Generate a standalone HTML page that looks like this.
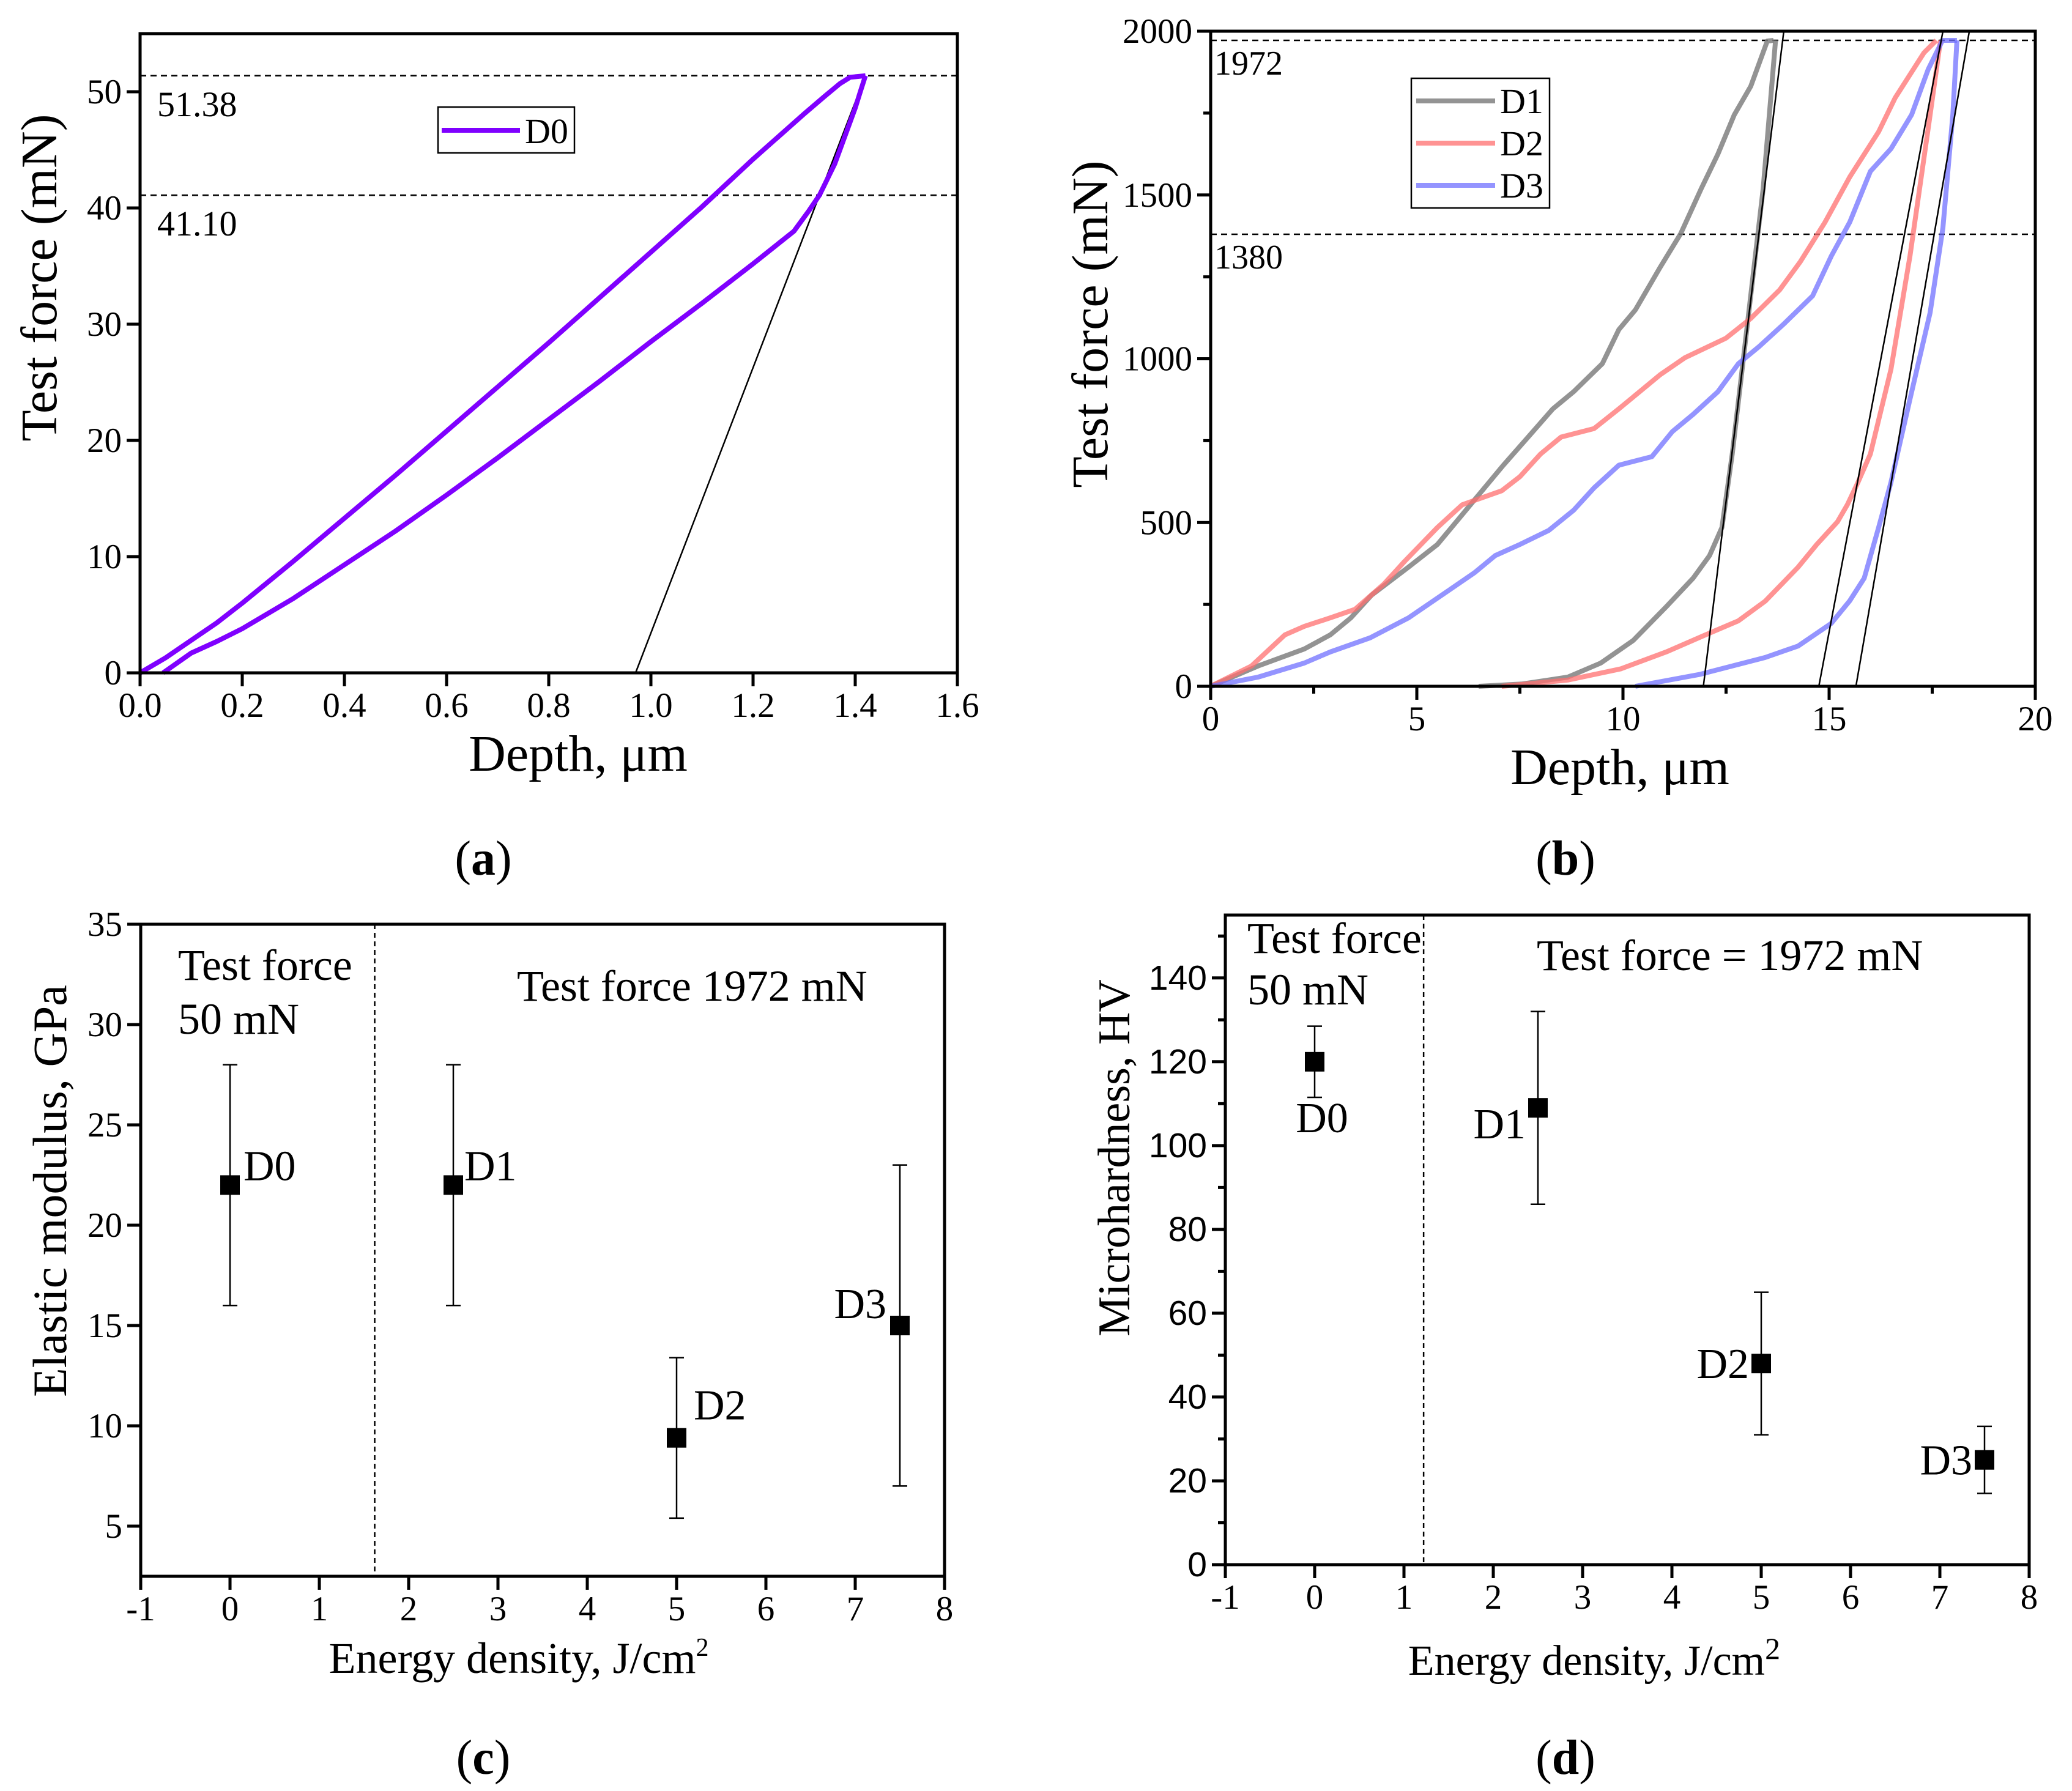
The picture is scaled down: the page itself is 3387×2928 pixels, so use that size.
<!DOCTYPE html>
<html><head><meta charset="utf-8">
<style>
html,body{margin:0;padding:0;background:#fff;}
svg{display:block;}
text{font-family:"Liberation Serif",serif;fill:#000;}
.sans{font-family:"Liberation Sans",sans-serif;}
</style></head>
<body>
<svg id="fig" width="3387" height="2928" viewBox="0 0 3387 2928" xmlns="http://www.w3.org/2000/svg"></svg>
<script>
// ---------- Panel (a) data ----------
const aLoadDepth = [0,0.05,0.1,0.15,0.2,0.3,0.4,0.5,0.6,0.7,0.8,0.9,1.0,1.1,1.2,1.3,1.34,1.37,1.39,1.42];
const aLoadForce = [0,1.3,2.8,4.3,6.0,9.6,13.3,17.0,20.8,24.6,28.4,32.3,36.2,40.1,44.2,48.1,49.6,50.7,51.25,51.38];
const aUnloadDepth = [1.42,1.41,1.40,1.38,1.36,1.34,1.33,1.31,1.28,1.2,1.1,1.0,0.9,0.8,0.7,0.6,0.5,0.4,0.3,0.2,0.15,0.1,0.045];
const aUnloadForce = [51.38,50.0,48.6,46.2,43.8,42.0,41.1,39.8,38.0,35.2,31.8,28.5,25.1,21.8,18.5,15.3,12.2,9.3,6.4,3.8,2.7,1.7,0];
const aTangentDepth = [0.97,1.42];
const aTangentForce = [0,51.38];
const aRefForces = [51.38,41.10];
const aRefLabels = ["51.38","41.10"];
const aXTicks = [0,0.2,0.4,0.6,0.8,1.0,1.2,1.4,1.6];
const aXTickLabels = ["0.0","0.2","0.4","0.6","0.8","1.0","1.2","1.4","1.6"];
const aYTicks = [0,10,20,30,40,50];

// ---------- Panel (b) data ----------
const bD1LoadDepth = [0,1.15,2.27,2.9,3.4,3.9,4.8,5.5,6.3,7.1,7.7,8.3,8.8,9.5,9.9,10.3,10.9,11.4,11.9,12.3,12.7,13.1,13.5,13.65];
const bD1LoadForce = [0,62,114,157,209,278,364,433,554,675,761,847,899,985,1089,1149,1279,1382,1520,1624,1745,1832,1970,1972];
const bD1UnloadDepth = [13.7,13.4,12.97,12.65,12.4,12.1,11.7,11.05,10.25,9.46,8.66,7.54,6.5];
const bD1UnloadForce = [1972,1520,1054,709,485,399,330,243,140,71,28,7,0];
const bD2LoadDepth = [0,0.99,1.8,2.27,2.9,3.5,4.2,4.7,5.5,6.1,7.06,7.5,8.0,8.5,9.3,9.9,10.4,10.9,11.5,12.5,13.1,13.8,14.3,14.9,15.5,16.2,16.6,17.3,17.6];
const bD2LoadForce = [0,62,157,183,209,235,312,381,485,554,597,640,709,761,787,847,899,951,1003,1063,1123,1210,1296,1417,1555,1693,1796,1934,1972];
const bD2UnloadDepth = [17.7,17.45,16.96,16.5,16.0,15.7,15.44,15.2,14.7,14.25,13.45,12.8,12.0,11.05,9.94,8.66,7.06];
const bD2UnloadForce = [1972,1745,1313,968,709,623,554,502,433,364,260,200,157,105,53,19,0];
const bD3LoadDepth = [0,1.15,2.27,2.9,3.87,4.8,5.8,6.4,6.9,7.5,8.2,8.8,9.3,9.9,10.7,11.2,11.7,12.3,12.8,13.3,13.9,14.6,15.05,15.5,16.0,16.5,17.0,17.4,17.75,18.1];
const bD3LoadForce = [0,28,71,105,148,209,295,347,399,433,476,537,606,675,701,778,830,899,985,1037,1106,1192,1313,1417,1572,1641,1745,1883,1972,1972];
const bD3UnloadDepth = [18.1,18.0,17.76,17.45,16.97,16.5,16.2,15.85,15.5,15.05,14.25,13.45,11.85,10.3];
const bD3UnloadForce = [1972,1745,1400,1141,882,623,485,330,261,192,123,88,36,0];
const bTangentStart = [11.95,14.75,15.65];
const bTangentEnd = [13.9,17.76,18.4];
const bRefForces = [1972,1380];
const bRefLabels = ["1972","1380"];
const bXTicks = [0,5,10,15,20];
const bXMinor = [2.5,7.5,12.5,17.5];
const bYTicks = [0,500,1000,1500,2000];
const bYMinor = [250,750,1250,1750];
const bSeriesNames = ["D1","D2","D3"];

// ---------- Panel (c) data ----------
const cX = [0,2.5,5,7.5];
const cY = [22,22,9.4,15];
const cLow = [16,16,5.4,7];
const cHigh = [28,28,13.4,23];
const cNames = ["D0","D1","D2","D3"];
const cXTicks = [-1,0,1,2,3,4,5,6,7,8];
const cYTicks = [5,10,15,20,25,30,35];
const cDivider = 1.62;

// ---------- Panel (d) data ----------
const dX = [0,2.5,5,7.5];
const dY = [120,109,48,25];
const dLow = [111.5,86,31,17];
const dHigh = [128.5,132,65,33];
const dNames = ["D0","D1","D2","D3"];
const dXTicks = [-1,0,1,2,3,4,5,6,7,8];
const dYTicks = [0,20,40,60,80,100,120,140];
const dYMinor = [10,30,50,70,90,110,130,150];
const dDivider = 1.22;

const NS = "http://www.w3.org/2000/svg";
const svg = document.getElementById('fig');
const TICK_FS = 57, TITLE_FS = 84, LABEL_FS = 70, PANEL_FS = 80;
function el(tag, attrs, parent, txt){
  const e = document.createElementNS(NS, tag);
  for (const k in attrs) e.setAttribute(k, attrs[k]);
  if (txt !== undefined) e.textContent = txt;
  (parent||svg).appendChild(e);
  return e;
}
function scale(d0,d1,r0,r1){ return v => r0 + (v-d0)*(r1-r0)/(d1-d0); }

function axesFrame(g, L,R,T,B, xs, ys, xt, xtl, yt, ytl, xMinor, yMinor, sans){
  const f = el('rect',{x:L,y:T,width:R-L,height:B-T,fill:'none',stroke:'#000','stroke-width':5},g);
  
  
  xt.forEach((v,i)=>{
    const x = xs(v);
    const t = el('line',{x1:x,x2:x,y1:B,y2:B+22,stroke:'#000','stroke-width':5},g);
    
    
    const lb = el('text',{x:x,y:B+72,'text-anchor':'middle','font-size':TICK_FS},g,xtl[i]);
    
    
  });
  (xMinor||[]).forEach(v=>{
    const x = xs(v);
    const t = el('line',{x1:x,x2:x,y1:B,y2:B+12,stroke:'#000','stroke-width':5},g);
    
    
  });
  yt.forEach((v,i)=>{
    const y = ys(v);
    const t = el('line',{x1:L-22,x2:L,y1:y,y2:y,stroke:'#000','stroke-width':5},g);
    
    
    const lb = el('text',{x:L-30,y:y+19,'text-anchor':'end','font-size':TICK_FS},g,ytl[i]);
    if (sans) lb.setAttribute('class','sans');
    
    
  });
  (yMinor||[]).forEach(v=>{
    const y = ys(v);
    const t = el('line',{x1:L-12,x2:L,y1:y,y2:y,stroke:'#000','stroke-width':5},g);
    
    
  });
}
function pathD(xs,ys,X,Y){ return X.map((v,i)=>(i?'L':'M')+xs(v).toFixed(1)+','+ys(Y[i]).toFixed(1)).join(' '); }
function txt(g,x,y,s,size,anchor,name,extra){
  const t = el('text',Object.assign({x:x,y:y,'font-size':size,'text-anchor':anchor||'start'},extra||{}),g,s);
  
  
  return t;
}

// ================= Panel A =================
(function(){
  const L=229,R=1565,T=55,B=1100;
  const g = el('g',{});
  
  
  const xs = scale(0,1.6,L,R), ys = scale(0,55,B,T);
  aRefForces.forEach((v,i)=>{
    const l = el('line',{x1:L,x2:R,y1:ys(v),y2:ys(v),stroke:'#000','stroke-width':2.5,'stroke-dasharray':'10,7'},g);
    
    
    txt(g,L+28,ys(v)+66,aRefLabels[i],58,'start','reference-label');
  });
  const tl = el('line',{x1:xs(aTangentDepth[0]),y1:ys(aTangentForce[0]),x2:xs(aTangentDepth[1]),y2:ys(aTangentForce[1]),stroke:'#000','stroke-width':2.5},g);
  
  
  const p1 = el('path',{d:pathD(xs,ys,aLoadDepth,aLoadForce),fill:'none',stroke:'#7f00ff','stroke-width':8,'stroke-linejoin':'round'},g);
  
  
  const p2 = el('path',{d:pathD(xs,ys,aUnloadDepth,aUnloadForce),fill:'none',stroke:'#7f00ff','stroke-width':8,'stroke-linejoin':'round'},g);
  
  
  axesFrame(g,L,R,T,B,xs,ys,aXTicks,aXTickLabels,aYTicks,aYTicks.map(String));
  const lg = el('g',{},g);
  
  
  el('rect',{x:716,y:175,width:223,height:75,fill:'#fff',stroke:'#000','stroke-width':2.5},lg);
  const ll = el('line',{x1:722,x2:850,y1:213,y2:213,stroke:'#7f00ff','stroke-width':8},lg);
  
  
  txt(lg,858,234,'D0',58,'start','legend-label');
  txt(g,945,1260,'Depth, μm',TITLE_FS,'middle','x-axis-title');
  txt(g,0,0,'Test force (mN)',TITLE_FS,'middle','y-axis-title',{transform:'translate(92,454) rotate(-90)'});
  const pl = txt(g,790,1430,'',PANEL_FS,'middle','panel-label-a');
  pl.innerHTML = '(<tspan font-weight="bold">a</tspan>)';
})();

// ================= Panel B =================
(function(){
  const L=1979,R=3327,T=51,B=1122;
  const g = el('g',{});
  
  
  const xs = scale(0,20,L,R), ys = scale(0,2000,B,T);
  bRefForces.forEach((v,i)=>{
    const l = el('line',{x1:L,x2:R,y1:ys(v),y2:ys(v),stroke:'#000','stroke-width':2.5,'stroke-dasharray':'10,7'},g);
    
    
    txt(g,L+6,ys(v)+56,bRefLabels[i],56,'start','reference-label');
  });
  const series = [
    {name:'d1',c:'#808080',op:0.85,ld:bD1LoadDepth,lf:bD1LoadForce,ud:bD1UnloadDepth,uf:bD1UnloadForce},
    {name:'d2',c:'#ff6f6f',op:0.75,ld:bD2LoadDepth,lf:bD2LoadForce,ud:bD2UnloadDepth,uf:bD2UnloadForce},
    {name:'d3',c:'#7070ff',op:0.75,ld:bD3LoadDepth,lf:bD3LoadForce,ud:bD3UnloadDepth,uf:bD3UnloadForce}
  ];
  series.forEach(s=>{
    const a = el('path',{d:pathD(xs,ys,s.ld,s.lf),fill:'none',stroke:s.c,'stroke-opacity':s.op,'stroke-width':8,'stroke-linejoin':'round'},g);
    
    
    const b = el('path',{d:pathD(xs,ys,s.ud,s.uf),fill:'none',stroke:s.c,'stroke-opacity':s.op,'stroke-width':8,'stroke-linejoin':'round'},g);
    
    
  });
  bTangentStart.forEach((v,i)=>{
    const l = el('line',{x1:xs(v),y1:ys(0),x2:xs(bTangentEnd[i]),y2:ys(2000),stroke:'#000','stroke-width':2.5},g);
    
    
  });
  axesFrame(g,L,R,T,B,xs,ys,bXTicks,bXTicks.map(String),bYTicks,bYTicks.map(String),bXMinor,bYMinor);
  const lg = el('g',{},g);
  
  
  el('rect',{x:2307,y:128,width:226,height:212,fill:'#fff',stroke:'#000','stroke-width':2.5},lg);
  series.forEach((s,i)=>{
    const y = 165+i*69;
    const l = el('line',{x1:2315,x2:2444,y1:y,y2:y,stroke:s.c,'stroke-opacity':s.op,'stroke-width':8},lg);
    
    
    txt(lg,2452,y+20,bSeriesNames[i],58,'start','legend-label');
  });
  txt(g,2648,1282,'Depth, μm',TITLE_FS,'middle','x-axis-title');
  txt(g,0,0,'Test force (mN)',TITLE_FS,'middle','y-axis-title',{transform:'translate(1810,530) rotate(-90)'});
  const pl = txt(g,2559,1430,'',PANEL_FS,'middle','panel-label-b');
  pl.innerHTML = '(<tspan font-weight="bold">b</tspan>)';
})();

function scatterPanel(opt){
  const {L,R,T,B,xd,yd,X,Y,lo,hi,names,xt,yt,ymin,div,labelPos,gname,sans} = opt;
  const g = el('g',{});
  
  
  const xs = scale(xd[0],xd[1],L,R), ys = scale(yd[0],yd[1],B,T);
  const dl = el('line',{x1:xs(div),x2:xs(div),y1:T,y2:B,stroke:'#000','stroke-width':2.5,'stroke-dasharray':'8,6'},g);
  
  
  X.forEach((v,i)=>{
    const x = xs(v);
    const e = el('path',{d:`M${x},${ys(lo[i])}L${x},${ys(hi[i])}M${x-12},${ys(lo[i])}L${x+12},${ys(lo[i])}M${x-12},${ys(hi[i])}L${x+12},${ys(hi[i])}`,stroke:'#000','stroke-width':2.5,fill:'none'},g);
    
    
    const m = el('rect',{x:x-16,y:ys(Y[i])-16,width:32,height:32,fill:'#000'},g);
    
    
    const lp = labelPos[i];
    txt(g,x+lp[0],ys(Y[i])+lp[1],names[i],LABEL_FS,lp[2],'point-label');
  });
  axesFrame(g,L,R,T,B,xs,ys,xt,xt.map(String),yt,yt.map(String),null,ymin,sans);
  return g;
}

// ================= Panel C =================
(function(){
  const g = scatterPanel({L:230,R:1544,T:1511,B:2577,xd:[-1,8],yd:[2.5,35],X:cX,Y:cY,lo:cLow,hi:cHigh,names:cNames,
    xt:cXTicks,yt:cYTicks,div:cDivider,gname:'panel-c',
    labelPos:[[22,-8,'start'],[18,-8,'start'],[28,-30,'start'],[-22,-12,'end']]});
  txt(g,291,1602,'Test force',72,'start','annotation-test-force');
  txt(g,291,1690,'50 mN',72,'start','annotation-50mn');
  txt(g,845,1636,'Test force 1972 mN',72,'start','annotation-1972mn');
  const xt = txt(g,848,2735,'',72,'middle','x-axis-title');
  xt.innerHTML = 'Energy density, J/cm<tspan font-size="42" dy="-28">2</tspan>';
  txt(g,0,0,'Elastic modulus, GPa',78,'middle','y-axis-title',{transform:'translate(108,1947) rotate(-90)'});
  const pl = txt(g,790,2900,'',PANEL_FS,'middle','panel-label-c');
  pl.innerHTML = '(<tspan font-weight="bold">c</tspan>)';
})();

// ================= Panel D =================
(function(){
  const g = scatterPanel({L:2003,R:3317,T:1496,B:2558,xd:[-1,8],yd:[0,155],X:dX,Y:dY,lo:dLow,hi:dHigh,names:dNames,
    xt:dXTicks,yt:dYTicks,ymin:dYMinor,div:dDivider,gname:'panel-d',sans:true,
    labelPos:[[12,115,'middle'],[-20,50,'end'],[-20,24,'end'],[-20,24,'end']]});
  txt(g,2039,1558,'Test force',72,'start','annotation-test-force');
  txt(g,2039,1642,'50 mN',72,'start','annotation-50mn');
  txt(g,2512,1586,'Test force = 1972 mN',72,'start','annotation-1972mn');
  const xt = txt(g,2606,2738,'',70,'middle','x-axis-title');
  xt.innerHTML = 'Energy density, J/cm<tspan font-size="50" dy="-26">2</tspan>';
  txt(g,0,0,'Microhardness, HV',74,'middle','y-axis-title',{transform:'translate(1846,1893) rotate(-90)'});
  const pl = txt(g,2559,2900,'',PANEL_FS,'middle','panel-label-d');
  pl.innerHTML = '(<tspan font-weight="bold">d</tspan>)';
})();
</script>
</body></html>
